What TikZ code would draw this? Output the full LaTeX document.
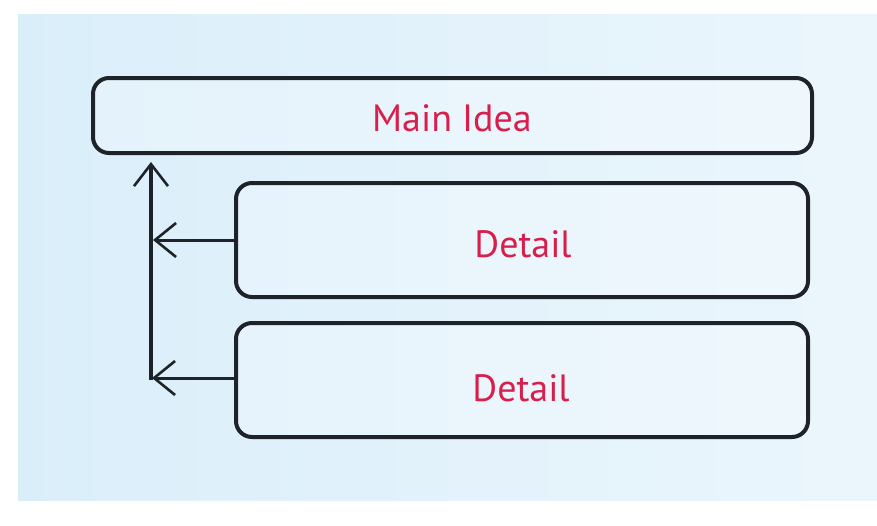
\documentclass[tikz,border=0pt]{standalone}
\usepackage{fontspec}
\setmainfont{PT Sans}
\usetikzlibrary{arrows.meta}
\definecolor{bgL}{HTML}{DAEEFA}
\definecolor{bgR}{HTML}{EBF6FC}
\definecolor{ink}{HTML}{1E2329}
\definecolor{txt}{HTML}{D81F4C}
\begin{document}
\begin{tikzpicture}[x=1pt,y=-1pt,
  box/.style={draw=ink,line width=4pt,rounded corners=16pt,fill=white,fill opacity=0.25,text opacity=1},
  lbl/.style={text=txt,font=\fontsize{38}{40}\selectfont},
  conn/.style={draw=ink,line width=3.6pt,-{Straight Barb[length=22pt,width=34pt,line width=2.6pt]}},
  feed/.style={draw=ink,line width=3pt,-{Straight Barb[length=21pt,width=34pt,line width=2.6pt]}}]
\useasboundingbox (0,0) rectangle (877,525);
\fill[white] (0,0) rectangle (877,525);
\shade[left color=bgL,right color=bgR] (18,14) rectangle (877,500);
\draw[box] (93,78) rectangle (812,153);
\node[lbl] (main) at (452,118) {Main Idea};
\draw[box] (236,183) rectangle (808,297);
\node[lbl] (d1) at (523,244) {Detail};
\draw[box] (236,323) rectangle (808,437);
\node[lbl] (d2) at (521,388) {Detail};
\coordinate (d1w) at (236,240);
\coordinate (d2w) at (236,378);
\coordinate (top) at (151,162);
\coordinate (bot) at (151,380);
\coordinate (j1) at (153,240);
\coordinate (j2) at (152,378);
\draw[conn] (bot) -- (top);
\draw[feed] (d1w) -- (j1);
\draw[feed] (d2w) -- (j2);
\end{tikzpicture}
\end{document}
